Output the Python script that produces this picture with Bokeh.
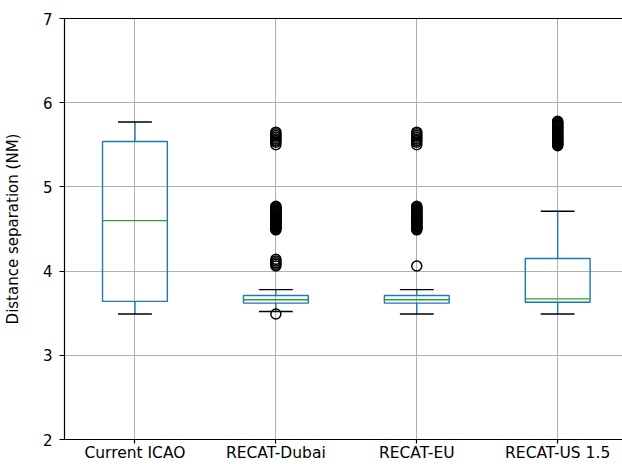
from bokeh.plotting import figure
from bokeh.models import FixedTicker, LinearAxis, Range1d
from bokeh.embed import file_html
from bokeh.resources import INLINE

categories = ["Current ICAO", "RECAT-Dubai", "RECAT-EU", "RECAT-US 1.5"]
positions = [1, 2, 3, 4]
whisker_low = [3.49, 3.52, 3.49, 3.49]
q1 = [3.64, 3.62, 3.62, 3.63]
median = [4.60, 3.66, 3.66, 3.67]
q3 = [5.54, 3.71, 3.71, 4.15]
whisker_high = [5.77, 3.78, 3.78, 4.71]

fliers_icao = []
fliers_dubai = [3.49, 4.06, 4.08, 4.10, 4.12, 4.14,
                4.49, 4.50, 4.51, 4.52, 4.53, 4.54, 4.55, 4.56, 4.57, 4.58,
                4.59, 4.60, 4.61, 4.62, 4.63, 4.64, 4.65, 4.66, 4.67, 4.68,
                4.69, 4.70, 4.71, 4.72, 4.73, 4.74, 4.75, 4.76, 4.77,
                5.50, 5.53, 5.55, 5.57, 5.59, 5.61, 5.63, 5.65]
fliers_eu = [4.06,
             4.49, 4.50, 4.51, 4.52, 4.53, 4.54, 4.55, 4.56, 4.57, 4.58,
             4.59, 4.60, 4.61, 4.62, 4.63, 4.64, 4.65, 4.66, 4.67, 4.68,
             4.69, 4.70, 4.71, 4.72, 4.73, 4.74, 4.75, 4.76, 4.77,
             5.50, 5.53, 5.55, 5.57, 5.59, 5.61, 5.63, 5.65]
fliers_us = [5.49, 5.50, 5.51, 5.52, 5.53, 5.54, 5.55, 5.56, 5.57, 5.58,
             5.59, 5.60, 5.61, 5.62, 5.63, 5.64, 5.65, 5.66, 5.67, 5.68,
             5.69, 5.70, 5.71, 5.72, 5.73, 5.74, 5.75, 5.76, 5.77, 5.78]
fliers = [fliers_icao, fliers_dubai, fliers_eu, fliers_us]

y_ticks = [2, 3, 4, 5, 6, 7]

BLUE = "#1f77b4"
GREEN = "#2ca02c"
FONT = "DejaVu Sans"

p = figure(width=622, height=464, output_backend="svg", toolbar_location=None,
           x_range=Range1d(0.5, 4.46), y_range=Range1d(2, 7),
           min_border_left=63, min_border_right=0, min_border_top=18,
           min_border_bottom=25)
p.outline_line_color = None
p.background_fill_color = "white"
p.border_fill_color = "white"

# grid
p.xgrid.ticker = FixedTicker(ticks=positions)
p.ygrid.ticker = FixedTicker(ticks=y_ticks)
for g in (p.xgrid, p.ygrid):
    g.grid_line_color = "#b0b0b0"
    g.grid_line_width = 1

# axes
p.xaxis.ticker = FixedTicker(ticks=positions)
p.xaxis.major_label_overrides = {pos: c for pos, c in zip(positions, categories)}
p.yaxis.ticker = FixedTicker(ticks=y_ticks)
p.yaxis.axis_label = "Distance separation (NM)"
for ax in (p.xaxis[0], p.yaxis[0]):
    ax.axis_line_color = "black"
    ax.axis_line_width = 1.2
    ax.major_tick_line_color = "black"
    ax.major_tick_line_width = 1.2
    ax.major_tick_out = 5
    ax.major_tick_in = 0
    ax.minor_tick_line_color = None
    ax.major_label_text_font = FONT
    ax.major_label_text_font_size = "15px"
    ax.major_label_text_color = "black"
    ax.axis_label_text_font = FONT
    ax.axis_label_text_font_size = "15px"
    ax.axis_label_text_font_style = "normal"
    ax.axis_label_text_color = "black"
p.xaxis.major_label_text_font_size = "15.5px"
p.xaxis.major_label_standoff = 0
p.xaxis.major_tick_out = 4
p.yaxis.major_label_standoff = 7
p.yaxis.axis_label_standoff = 18

top = LinearAxis(ticker=FixedTicker(ticks=[]), axis_line_color="black",
                 axis_line_width=1.2,
                 major_tick_line_color=None, minor_tick_line_color=None,
                 major_label_text_font_size="0px")
p.add_layout(top, "above")

bw = 0.23
cw = 0.12
LW = 1.4
# whiskers
p.segment(x0=positions, y0=q3, x1=positions, y1=whisker_high, line_color=BLUE, line_width=LW)
p.segment(x0=positions, y0=q1, x1=positions, y1=whisker_low, line_color=BLUE, line_width=LW)
# caps
p.segment(x0=[x - cw for x in positions], y0=whisker_high, x1=[x + cw for x in positions],
          y1=whisker_high, line_color="black", line_width=LW)
p.segment(x0=[x - cw for x in positions], y0=whisker_low, x1=[x + cw for x in positions],
          y1=whisker_low, line_color="black", line_width=LW)
# boxes
p.quad(left=[x - bw for x in positions], right=[x + bw for x in positions],
       bottom=q1, top=q3, fill_color=None, line_color=BLUE, line_width=LW)
# medians
p.segment(x0=[x - bw for x in positions], y0=median, x1=[x + bw for x in positions],
          y1=median, line_color=GREEN, line_width=LW)
# fliers
fx, fy = [], []
for pos, fl in zip(positions, fliers):
    fx += [pos] * len(fl)
    fy += fl
p.scatter(x=fx, y=fy, marker="circle", size=10, fill_color=None,
          line_color="black", line_width=1.5)

open("out.html", "w").write(file_html(p, INLINE))
